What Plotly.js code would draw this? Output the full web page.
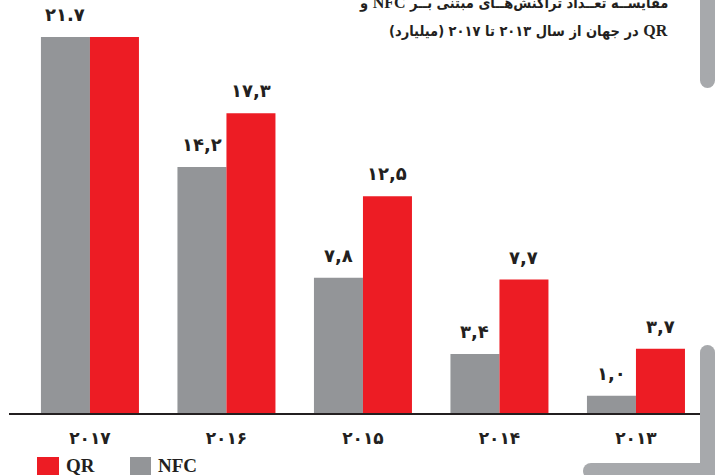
<!DOCTYPE html>
<html>
<head>
<meta charset="utf-8">
<script src="https://cdn.plot.ly/plotly-3.0.1.min.js"></script>
<style>html,body{margin:0;padding:0;background:#fff;}#chart{width:715px;height:475px;}</style>
</head>
<body>
<div id="chart"></div>
<script>
// ---- data ----
const categories = ['۲۰۱۷', '۲۰۱۶', '۲۰۱۵', '۲۰۱۴', '۲۰۱۳'];
const nfcValues = [21.7, 14.2, 7.8, 3.4, 1.0];
const qrValues = [21.7, 17.3, 12.5, 7.7, 3.7];
const nfcLabels = ['۲۱.۷', '۱۴,۲', '۷,۸', '۳,۴', '۱,۰'];
const qrLabels = ['', '۱۷,۳', '۱۲,۵', '۷,۷', '۳,۷'];
const seriesNames = ['NFC', 'QR'];
const titleLine1 = 'مقایســه تعــداد تراکنش‌هــای مبتنی بــر NFC و';
const titleLine2 = 'QR در جهان از سال ۲۰۱۳ تا ۲۰۱۷ (میلیارد)';

// ---- style ----
const W = 715, H = 475;
const GREY = '#939598', RED = '#ed1c24', DECO = '#a7a9ac', INK = '#231f20';
const FA = 'DejaVu Sans';
const FAC = 'DejaVu Sans Condensed';
const SERIF = 'Liberation Serif';
const px = x => x / W;
const py = y => 1 - y / H;
// The reference lays the words out left-to-right. Words are isolated with LRM marks
// and given in reverse order, since the text run is laid out right-to-left.
const visualLtr = s => '\u200E' + s.split(' ').reverse().map(w =>
  /^[A-Za-z]+$/.test(w) ? '<span style="font-family:' + SERIF + ';font-size:16px">' + w + '</span>' : w
).join('\u200E \u200E') + '\u200E';

const traces = [
  {type: 'bar', name: seriesNames[0], x: categories, y: nfcValues,
   marker: {color: GREY, line: {width: 0}}, hoverinfo: 'skip'},
  {type: 'bar', name: seriesNames[1], x: categories, y: qrValues,
   marker: {color: RED, line: {width: 0}}, hoverinfo: 'skip'}
];

const annotations = [];
function addLabels(labels, vals, shift) {
  labels.forEach((t, i) => {
    if (!t) return;
    annotations.push({x: categories[i], y: vals[i], xref: 'x', yref: 'y', text: t,
      showarrow: false, xanchor: 'center', yanchor: 'bottom', xshift: shift, yshift: 10,
      font: {family: FA, size: 18, color: INK, weight: 700}});
  });
}
addLabels(nfcLabels, nfcValues, -24.5);
addLabels(qrLabels, qrValues, 24.5);

// title
annotations.push({xref: 'paper', yref: 'paper', x: px(670), y: py(3), xanchor: 'right', yanchor: 'middle',
  text: visualLtr(titleLine1), showarrow: false, font: {family: FAC, size: 14.5, color: INK, weight: 700}});
annotations.push({xref: 'paper', yref: 'paper', x: px(670), y: py(31), xanchor: 'right', yanchor: 'middle',
  text: visualLtr(titleLine2), showarrow: false, font: {family: FAC, size: 14.5, color: INK, weight: 700}});

// legend (custom)
annotations.push({xref: 'paper', yref: 'paper', x: px(64), y: py(465), xanchor: 'left', yanchor: 'middle',
  text: seriesNames[1], showarrow: false, font: {family: SERIF, size: 19, color: INK, weight: 700}});
annotations.push({xref: 'paper', yref: 'paper', x: px(156), y: py(465), xanchor: 'left', yanchor: 'middle',
  text: seriesNames[0], showarrow: false, font: {family: SERIF, size: 19, color: INK, weight: 700}});

const shapes = [
  // legend squares
  {type: 'rect', xref: 'paper', yref: 'paper', x0: px(37), x1: px(59), y0: py(457), y1: py(475), fillcolor: RED, line: {width: 0}},
  {type: 'rect', xref: 'paper', yref: 'paper', x0: px(130), x1: px(151), y0: py(457), y1: py(475), fillcolor: GREY, line: {width: 0}},
  // decorative frame pieces
  {type: 'rect', layer: 'above', xref: 'paper', yref: 'paper', x0: px(700), x1: px(716), y0: py(0), y1: py(80), fillcolor: DECO, line: {width: 0}},
  {type: 'circle', layer: 'above', xref: 'paper', yref: 'paper', x0: px(700), x1: px(715), y0: py(88), y1: py(73), fillcolor: DECO, line: {width: 0}},
  {type: 'rect', layer: 'above', xref: 'paper', yref: 'paper', x0: px(700), x1: px(716), y0: py(353), y1: py(476), fillcolor: DECO, line: {width: 0}},
  {type: 'circle', layer: 'above', xref: 'paper', yref: 'paper', x0: px(700), x1: px(715), y0: py(360), y1: py(345), fillcolor: DECO, line: {width: 0}},
  {type: 'rect', layer: 'above', xref: 'paper', yref: 'paper', x0: px(591), x1: px(716), y0: py(463), y1: py(476), fillcolor: DECO, line: {width: 0}},
  {type: 'circle', layer: 'above', xref: 'paper', yref: 'paper', x0: px(583), x1: px(599), y0: py(479), y1: py(463), fillcolor: DECO, line: {width: 0}}
];

const layout = {
  width: W, height: H,
  margin: {l: 0, r: 0, t: 0, b: 0, pad: 0},
  paper_bgcolor: '#ffffff', plot_bgcolor: '#ffffff',
  showlegend: false,
  barmode: 'group', bargap: 0.282, bargroupgap: 0,
  xaxis: {type: 'category', domain: [px(9), 1], range: [-0.593, 4.579],
    showline: true, linecolor: INK, linewidth: 2, ticks: '', showgrid: false, zeroline: false,
    ticklabelstandoff: 9,
    tickfont: {family: FA, size: 17, color: INK, weight: 700}, fixedrange: true},
  yaxis: {domain: [py(413), 1], range: [0, 23.83], visible: false, showgrid: false, zeroline: false, fixedrange: true},
  annotations: annotations,
  shapes: shapes
};

Plotly.newPlot('chart', traces, layout, {displayModeBar: false, staticPlot: true});
</script>
</body>
</html>
